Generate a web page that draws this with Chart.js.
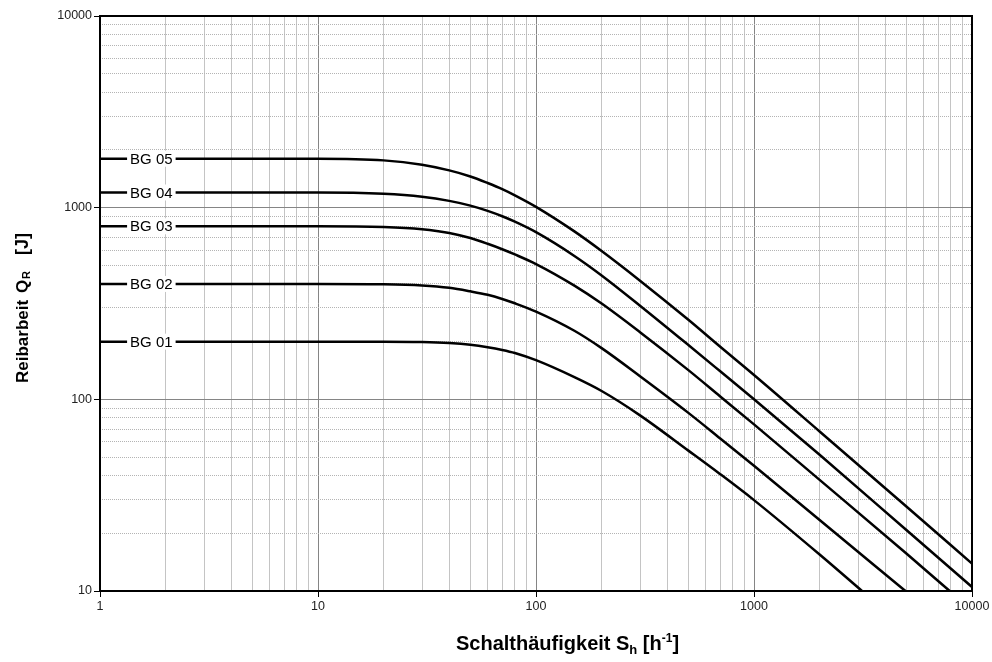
<!DOCTYPE html>
<html>
<head>
<meta charset="utf-8">
<title>Reibarbeit</title>
<script src="https://cdn.jsdelivr.net/npm/chart.js@4.4.1/dist/chart.umd.min.js"></script>
<style>
  html, body { margin: 0; padding: 0; background: #fff; }
  #wrap { width: 992px; height: 662px; }
</style>
</head>
<body>
<div id="wrap"><canvas id="chart" width="992" height="662"></canvas></div>
<script>
// curve names
const seriesNames = ['BG 01', 'BG 02', 'BG 03', 'BG 04', 'BG 05'];

// Schalthäufigkeit S_h [1/h] and Reibarbeit Q_R [J]
const shBG01 = [1, 10, 20, 30, 40, 50, 60, 70, 80, 100, 150, 200, 300, 500, 700, 1000, 2000, 3130];
const qBG01  = [200, 200, 200, 199, 196.5, 192.5, 187, 181, 174.5, 160, 130.5, 110.5, 82.5, 54, 40.7, 29.8, 15.5, 10];

const shBG02 = [1, 10, 20, 30, 40, 50, 60, 70, 80, 100, 150, 200, 300, 500, 700, 1000, 2000, 4950];
const qBG02  = [400, 400, 398.5, 393, 382, 366, 351, 334, 317, 287, 228, 185, 132, 85, 62.5, 45, 23.45, 10];

const shBG03 = [1, 10, 20, 30, 40, 50, 60, 70, 80, 100, 150, 200, 300, 500, 700, 1000, 2000, 5000, 7900];
const qBG03  = [800, 800, 793, 772, 738, 694, 648, 607, 570, 508, 392, 316, 224, 142, 103.5, 74, 38, 15.7, 10];

const shBG04 = [1, 10, 20, 30, 40, 50, 60, 70, 80, 100, 150, 200, 300, 500, 700, 1000, 2000, 5000, 10000];
const qBG04  = [1200, 1200, 1181, 1140, 1085, 1025, 962, 902, 845, 745, 560, 443, 308, 192, 140, 100, 51.4, 20.8, 10.5];

const shBG05 = [1, 10, 20, 30, 40, 50, 60, 70, 80, 100, 150, 200, 300, 500, 700, 1000, 2000, 5000, 10000];
const qBG05  = [1800, 1800, 1765, 1675, 1565, 1455, 1345, 1250, 1160, 1010, 752, 594, 416, 260, 188, 134, 68, 27.6, 13.9];

// axis ranges
const xRange = [1, 10000];
const yRange = [10, 10000];

const FONT = "'Liberation Sans', Arial, sans-serif";

function isDecade(v) {
  const l = Math.log10(v);
  return Math.abs(l - Math.round(l)) < 1e-9;
}

// 1..9 per decade, for the log grid
function logGrid(min, max) {
  const out = [];
  for (let e = Math.round(Math.log10(min)); e < Math.round(Math.log10(max)); e++) {
    for (let m = 1; m < 10; m++) out.push(m * Math.pow(10, e));
  }
  out.push(max);
  return out;
}

const curves = [
  [shBG01, qBG01], [shBG02, qBG02], [shBG03, qBG03], [shBG04, qBG04], [shBG05, qBG05]
];

const datasets = curves.map(([sh, q], i) => ({
  label: seriesNames[i],
  data: sh.map((s, k) => ({ x: s, y: q[k] })),
  borderColor: '#000',
  borderWidth: 2.5,
  pointRadius: 0,
  fill: false,
  cubicInterpolationMode: 'monotone'
}));

// names sitting on the flat part of each curve
const curveLabels = {
  id: 'curveLabels',
  afterDatasetsDraw(chart) {
    const { ctx, scales: { x, y } } = chart;
    ctx.save();
    ctx.font = '15px ' + FONT;
    ctx.textAlign = 'center';
    ctx.textBaseline = 'middle';
    const px = x.getPixelForValue(1.72);
    chart.data.datasets.forEach(ds => {
      const py = y.getPixelForValue(ds.data[0].y);
      const w = ctx.measureText(ds.label).width;
      ctx.fillStyle = '#fff';
      ctx.fillRect(px - w / 2 - 3, py - 8, w + 6, 16);
      ctx.fillStyle = '#000';
      ctx.fillText(ds.label, px, py + 1);
    });
    ctx.restore();
  }
};

// black frame round the plot
const frame = {
  id: 'frame',
  beforeDatasetsDraw(chart) {
    const { ctx, chartArea: a } = chart;
    ctx.save();
    ctx.strokeStyle = '#000';
    ctx.lineWidth = 2;
    ctx.strokeRect(a.left, a.top, a.right - a.left, a.bottom - a.top);
    ctx.restore();
  }
};

// axis titles with sub/superscripts
function drawPieces(ctx, pieces, x0, y0) {
  let x = x0;
  pieces.forEach(p => {
    ctx.font = 'bold ' + p.size + 'px ' + FONT;
    if (p.at !== undefined) x = x0 + p.at;
    ctx.fillText(p.t, x, y0 + (p.dy || 0));
    x += ctx.measureText(p.t).width;
  });
}

const axisTitles = {
  id: 'axisTitles',
  afterDraw(chart) {
    const { ctx } = chart;
    ctx.save();
    ctx.fillStyle = '#000';
    ctx.textAlign = 'left';
    ctx.textBaseline = 'alphabetic';
    drawPieces(ctx, [
      { t: 'Schalthäufigkeit S', size: 20 },
      { t: 'h', size: 13, dy: 4 },
      { t: ' [h', size: 20 },
      { t: '-1', size: 12, dy: -8 },
      { t: ']', size: 20 }
    ], 456, 650);

    ctx.translate(28, 383);
    ctx.rotate(-Math.PI / 2);
    drawPieces(ctx, [
      { t: 'Reibarbeit', size: 17, at: 0 },
      { t: 'Q', size: 17, at: 90 },
      { t: 'R', size: 11, at: 104, dy: 2 },
      { t: '[J]', size: 18, at: 128 }
    ], 0, 0);
    ctx.restore();
  }
};

function gridColor(c) {
  if (!c.tick) return '#c4c4c4';
  return isDecade(c.tick.value) ? '#858585' : '#c4c4c4';
}
function tickColor(c) {
  return c.tick && isDecade(c.tick.value) ? '#000' : 'rgba(0,0,0,0)';
}

new Chart(document.getElementById('chart'), {
  type: 'line',
  data: { datasets: datasets },
  options: {
    responsive: false,
    animation: false,
    devicePixelRatio: 1,
    layout: { padding: { top: 16, right: 20, bottom: 0, left: 0 } },
    plugins: {
      legend: { display: false },
      tooltip: { enabled: false }
    },
    scales: {
      x: {
        type: 'logarithmic',
        min: xRange[0],
        max: xRange[1],
        afterBuildTicks: s => { s.ticks = logGrid(xRange[0], xRange[1]).map(v => ({ value: v })); },
        afterFit: s => { s.height = 71; },
        ticks: {
          autoSkip: false,
          maxRotation: 0,
          padding: 2,
          color: '#222',
          font: { family: FONT, size: 12.5 },
          callback: v => isDecade(v) ? String(v) : ''
        },
        grid: { color: gridColor, lineWidth: 1, tickLength: 6, tickColor: tickColor, tickWidth: 1 },
        border: { display: false }
      },
      y: {
        type: 'logarithmic',
        min: yRange[0],
        max: yRange[1],
        afterBuildTicks: s => { s.ticks = logGrid(yRange[0], yRange[1]).map(v => ({ value: v })); },
        afterFit: s => { s.width = 100; },
        ticks: {
          autoSkip: false,
          padding: 2,
          color: '#222',
          font: { family: FONT, size: 12.5 },
          callback: v => isDecade(v) ? String(v) : ''
        },
        grid: {
          color: c => (c.tick && !isDecade(c.tick.value)) ? '#b4b4b4' : '#858585',
          lineWidth: 1, tickLength: 6, tickColor: tickColor, tickWidth: 1
        },
        border: {
          display: false,
          dash: c => (c.tick && !isDecade(c.tick.value)) ? [1, 1] : []
        }
      }
    }
  },
  plugins: [frame, curveLabels, axisTitles]
});
</script>
</body>
</html>
